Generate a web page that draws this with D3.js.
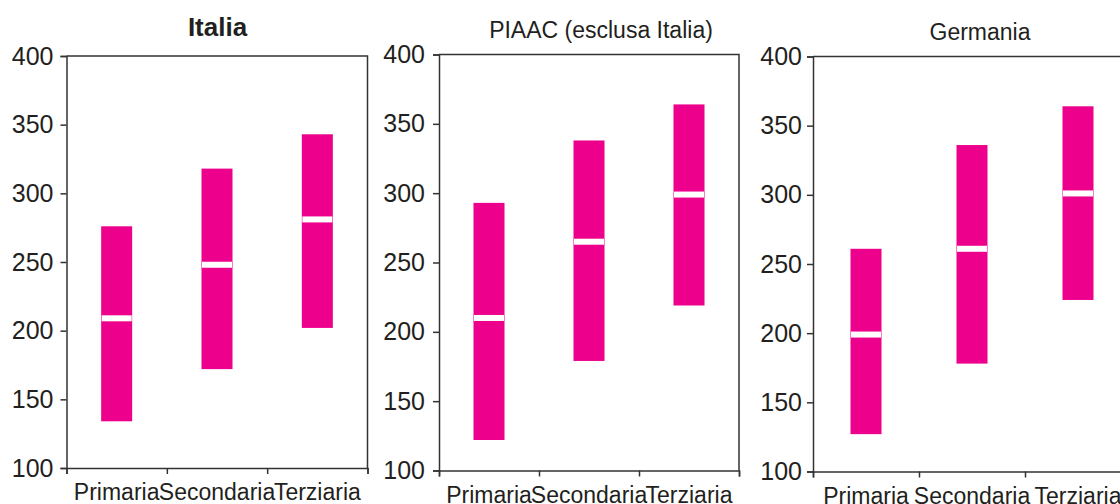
<!DOCTYPE html>
<html>
<head>
<meta charset="utf-8">
<script src="https://cdn.jsdelivr.net/npm/d3@7"></script>
<style>
  body { margin: 0; background: #fff; }
  text { font-family: "Liberation Sans", Arial, sans-serif; fill: #231f20; }
</style>
</head>
<body>
<div class="chart"></div>
<script>
// data
var panelNames = ["Italia", "PIAAC (esclusa Italia)", "Germania"];
var categories = ["Primaria", "Secondaria", "Terziaria"];
var yTicks = [100, 150, 200, 250, 300, 350, 400];

var lowItalia = [134, 172, 202];
var medItalia = [209, 248, 281];
var highItalia = [276, 318, 343];

var lowPiaac = [122, 179, 219];
var medPiaac = [210, 265, 299];
var highPiaac = [293, 338, 364];

var lowGermania = [127, 178, 224];
var medGermania = [199, 261, 301];
var highGermania = [261, 336, 364];

var lows = [lowItalia, lowPiaac, lowGermania];
var meds = [medItalia, medPiaac, medGermania];
var highs = [highItalia, highPiaac, highGermania];

// where each panel sits (the panels are not quite the same size)
var layout = [
  {left: 66.5, top: 56, w: 301, h: 412, titleX: 151, titleY: -20, bold: true, pad: 7, labY: 32},
  {left: 439, top: 54.5, w: 300, h: 416, titleX: 162, titleY: -17, bold: false, pad: 8, labY: 32},
  {left: 813, top: 56.5, w: 318, h: 415, titleX: 167, titleY: -17, bold: false, pad: 5, labY: 32}
];

var pink = "#ec008c";
var axisColor = "#333";
var barW = 31;

function init() {
  var svg = d3.select(".chart")
    .append("svg")
    .attr("width", 1120)
    .attr("height", 504);

  panelNames.forEach(function (name, p) {
    var L = layout[p];
    var g = svg.append("g")
      .attr("transform", "translate(" + L.left + "," + L.top + ")");

    var y = d3.scaleLinear().domain([100, 400]).range([L.h, 0]);
    var x = d3.scaleBand().domain(categories).range([0, L.w]);
    var xEdge = d3.scaleLinear().domain([0, categories.length]).range([0, L.w]);

    var rows = categories.map(function (c, i) {
      return {cat: c, low: lows[p][i], med: meds[p][i], high: highs[p][i]};
    });

    // bars
    g.selectAll("rect.bar")
      .data(rows)
      .enter()
      .append("rect")
      .attr("class", "bar")
      .attr("x", function (d) { return x(d.cat) + x.bandwidth() / 2 - barW / 2; })
      .attr("y", function (d) { return y(d.high); })
      .attr("width", barW)
      .attr("height", function (d) { return y(d.low) - y(d.high); })
      .attr("fill", pink);

    // median marks
    g.selectAll("rect.med")
      .data(rows)
      .enter()
      .append("rect")
      .attr("class", "med")
      .attr("x", function (d) { return x(d.cat) + x.bandwidth() / 2 - barW / 2 + 0.5; })
      .attr("y", function (d) { return y(d.med) - 3; })
      .attr("width", barW - 1)
      .attr("height", 6)
      .attr("fill", "#fff");

    // frame top + right
    g.append("path")
      .attr("d", "M0,0H" + L.w + "V" + L.h)
      .attr("fill", "none")
      .attr("stroke", axisColor)
      .attr("stroke-width", 1.5);

    // y axis
    var yAxis = g.append("g")
      .call(d3.axisLeft(y).tickValues(yTicks).tickSize(6).tickPadding(L.pad));
    yAxis.select(".domain").attr("stroke", axisColor).attr("stroke-width", 1.5);
    yAxis.selectAll(".tick line").attr("stroke", axisColor).attr("stroke-width", 1.5);
    yAxis.selectAll("text")
      .attr("font-size", 25)
      .attr("fill", "#231f20")
      .style("font-family", "Liberation Sans, Arial, sans-serif");

    // x axis ticks at band edges
    var xAxis = g.append("g")
      .attr("transform", "translate(0," + L.h + ")")
      .call(d3.axisBottom(xEdge).tickValues(d3.range(categories.length + 1)).tickSize(6).tickFormat(""));
    xAxis.select(".domain").attr("stroke", axisColor).attr("stroke-width", 1.5);
    xAxis.selectAll(".tick line").attr("stroke", axisColor).attr("stroke-width", 1.5);

    // x labels
    var xLab = g.append("g")
      .attr("transform", "translate(0," + L.h + ")")
      .call(d3.axisBottom(x).tickSize(0).tickPadding(0));
    xLab.select(".domain").remove();
    xLab.selectAll("text")
      .attr("y", L.labY)
      .attr("dy", null)
      .attr("font-size", 23)
      .attr("fill", "#231f20")
      .style("font-family", "Liberation Sans, Arial, sans-serif");

    // title
    g.append("text")
      .attr("x", L.titleX)
      .attr("y", L.titleY)
      .attr("text-anchor", "middle")
      .attr("font-size", L.bold ? 26 : 23)
      .attr("font-weight", L.bold ? "bold" : "normal")
      .text(name);
  });
}
window.onload = init;
</script>
</body>
</html>
